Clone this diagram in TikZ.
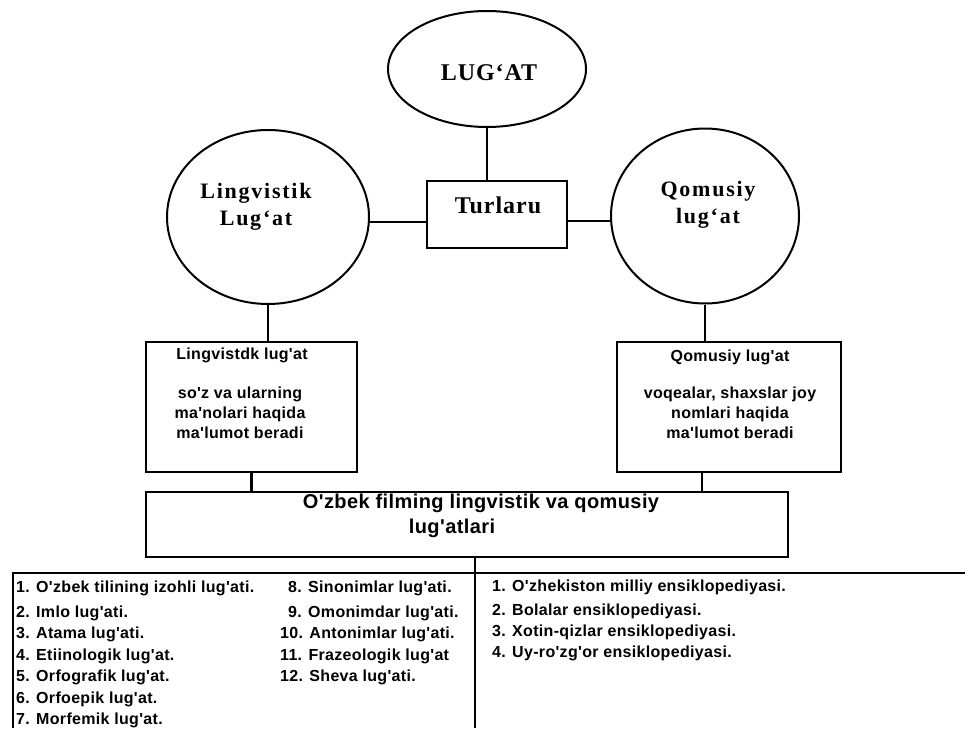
\documentclass[tikz,border=0pt]{standalone}
\usepackage{fontspec}
\setmainfont{Liberation Serif}
\setsansfont{Liberation Sans}
\usetikzlibrary{shapes.geometric}
\newfontfamily\capsfont[LetterSpace=4]{Liberation Serif}
\newfontfamily\circfont[LetterSpace=8]{Liberation Serif}
\newfontfamily\listfont[LetterSpace=2]{Liberation Sans}
\tikzset{
  ln/.style={line width=2.2pt},
  ell/.style={ellipse, draw, line width=2pt, inner sep=0pt},
  boxr/.style={rectangle, draw, line width=2.4pt, inner sep=0pt},
  ttl/.style={font=\capsfont\bfseries\fontsize{24}{28}\selectfont, inner sep=0pt},
  circtxt/.style={font=\circfont\bfseries\fontsize{22}{27}\selectfont, align=center, inner sep=0pt},
  btxt/.style={font=\listfont\bfseries\fontsize{16}{20}\selectfont, align=center, inner sep=0pt},
  ltxt/.style={font=\listfont\bfseries\fontsize{16}{20}\selectfont, anchor=west, inner sep=0pt},
  bigtxt/.style={font=\listfont\bfseries\fontsize{20}{25}\selectfont, align=center, inner sep=0pt}
}
\begin{document}
\begin{tikzpicture}[x=1pt,y=-1pt]
\fill[white] (0,0) rectangle (965,728);
\useasboundingbox (0,0) rectangle (965,728);

% top ellipse and type box
\node[ell, minimum width=198pt, minimum height=116pt] (lugat) at (487,69) {};
\node[ttl] (lugatt) at (489,73) {LUG‘AT};
\node[boxr, minimum width=140pt, minimum height=67pt] (turl) at (497,214.5) {};
\node[ttl] (turlt) at (498,205) {Turlaru};

% circles
\node[ell, minimum width=202pt, minimum height=174pt] (ling) at (268,217) {};
\node[circtxt] (lingt) at (256,206.5) {Lingvistik\\Lug‘at};
\node[ell, minimum width=188pt, minimum height=175pt] (qom) at (705,216) {};
\node[circtxt] (qomt) at (708,205) {Qomusiy\\lug‘at};

% description boxes
\node[boxr, minimum width=211pt, minimum height=130pt] (lbox) at (251.5,407) {};
\node[btxt] (lboxt) at (242,355) {Lingvistdk lug'at};
\node[btxt] (lboxd) at (240,413) {so'z va ularning\\ma'nolari haqida\\ma'lumot beradi};
\node[boxr, minimum width=224pt, minimum height=130pt] (rbox) at (729,407) {};
\node[btxt] (rboxt) at (730,357) {Qomusiy lug'at};
\node[btxt] (rboxd) at (730,413) {voqealar, shaxslar joy\\nomlari haqida\\ma'lumot beradi};

% bottom box
\node[boxr, minimum width=642pt, minimum height=65pt] (bbox) at (467,524.5) {};
\node[bigtxt] (bboxt1) at (481,503) {O'zbek filming lingvistik va qomusiy};
\node[bigtxt] (bboxt2) at (452,528) {lug'atlari};

% table frame
\coordinate (tl) at (13,573);
\coordinate (tr) at (965,573);
\coordinate (bl) at (13,728);
\coordinate (tbot) at (475,728);

% connectors
\draw[ln] (lugat.south) -- (lugat.south |- turl.north);
\draw[ln] ([yshift=-5pt]ling.east) -- ([yshift=-5pt]ling.east -| turl.west);
\draw[ln] ([yshift=-5pt]qom.west) -- ([yshift=-5pt]qom.west -| turl.east);
\draw[ln] (ling.south) -- (ling.south |- lbox.north);
\draw[ln] (qom.south) -- (qom.south |- rbox.north);
\draw[ln] (lbox.south) -- (lbox.south |- bbox.north);
\draw[ln] ([xshift=-27pt]rbox.south) -- ([xshift=-27pt]rbox.south |- bbox.north);
\draw[ln] (tbot |- bbox.south) -- (tbot);
\draw[line width=2.6pt] (bl) -- (tl) -- (tr);

% list: linguistic dictionaries
\node[ltxt] (l1) at (16,588) {1. O'zbek tilining izohli lug'ati.};
\node[ltxt] (l2) at (16,613) {2. Imlo lug'ati.};
\node[ltxt] (l3) at (16,634.5) {3. Atama lug'ati.};
\node[ltxt] (l4) at (16,656) {4. Etiinologik lug'at.};
\node[ltxt] (l5) at (16,677.5) {5. Orfografik lug'at.};
\node[ltxt] (l6) at (16,699) {6. Orfoepik lug'at.};
\node[ltxt] (l7) at (16,720) {7. Morfemik lug'at.};
\node[ltxt] (l8) at (288,588) {8. Sinonimlar lug'ati.};
\node[ltxt] (l9) at (288,613) {9. Omonimdar lug'ati.};
\node[ltxt] (l10) at (280,634.5) {10. Antonimlar lug'ati.};
\node[ltxt] (l11) at (280,656) {11. Frazeologik lug'at};
\node[ltxt] (l12) at (280,677.5) {12. Sheva lug'ati.};

% list: encyclopedias
\node[ltxt] (e1) at (492,587) {1. O'zhekiston milliy ensiklopediyasi.};
\node[ltxt] (e2) at (492,611) {2. Bolalar ensiklopediyasi.};
\node[ltxt] (e3) at (492,632) {3. Xotin-qizlar ensiklopediyasi.};
\node[ltxt] (e4) at (492,653) {4. Uy-ro'zg'or ensiklopediyasi.};
\end{tikzpicture}
\end{document}
